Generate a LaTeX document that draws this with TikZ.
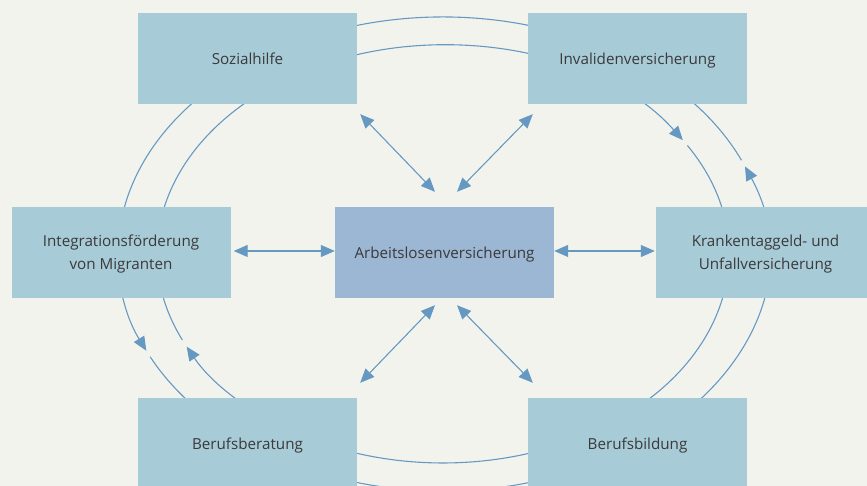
\documentclass[tikz,border=0pt]{standalone}
\usepackage{fontspec}
\setmainfont{Open Sans}
\usetikzlibrary{arrows.meta}
\definecolor{bg}{HTML}{F3F3EE}
\definecolor{boxblue}{HTML}{A8CBD8}
\definecolor{midblue}{HTML}{9CB7D4}
\definecolor{linkblue}{HTML}{6699C2}
\definecolor{txt}{HTML}{3A3A3A}
\begin{document}
\begin{tikzpicture}[x=1pt, y=1pt, >={Triangle[length=14pt,width=12pt]},
  inst/.style={fill=boxblue, minimum width=219pt, minimum height=91pt, inner sep=0pt,
    align=center, text=txt, text depth=0pt, font=\fontsize{15.2}{23}\selectfont},
  link/.style={draw=linkblue, line width=1.1pt}]
\fill[bg] (0,0) rectangle (867,486);
\useasboundingbox (0,0) rectangle (867,486);
\clip (0,0) rectangle (867,486);
\coordinate (c) at (443,232);
% outer ring
\draw[link,->] ([shift={(23.3:325 and 237)}]c) arc[start angle=23.3, end angle=204.1, x radius=325, y radius=237];
\draw[link,->] ([shift={(205.7:325 and 237)}]c) arc[start angle=205.7, end angle=381.7, x radius=325, y radius=237];
% inner ring
\draw[link,->] ([shift={(204.3:286 and 209)}]c) arc[start angle=204.3, end angle=33, x radius=286, y radius=209];
\draw[link,->] ([shift={(31.3:286 and 209)}]c) arc[start angle=31.3, end angle=-153.7, x radius=286, y radius=209];

\node[inst] (sozial) at (247.5,427.5) {Sozialhilfe};
\node[inst] (invalid) at (637.5,427.5) {Invalidenversicherung};
\node[inst] (integ) at (121,233.5) {Integrationsförderung\\von Migranten};
\node[inst, fill=midblue] (arbeit) at (444.5,233.5) {Arbeitslosenversicherung};
\node[inst] (kranken) at (765.5,233.5) {Krankentaggeld- und\\Unfallversicherung};
\node[inst] (beratung) at (247.5,42.5) {Berufsberatung};
\node[inst] (bildung) at (637.5,42.5) {Berufsbildung};

\draw[link,<->] ([shift={(3,-10)}]sozial.south east) -- ([shift={(-9.5,15)}]arbeit.north);
\draw[link,<->] ([shift={(5,-10)}]invalid.south west) -- ([shift={(12.5,15)}]arbeit.north);
\draw[link,<->] ([shift={(3,1.5)}]integ.east) -- ([yshift=1.5]arbeit.west);
\draw[link,<->] ([yshift=1.5]arbeit.east) -- ([shift={(-1,1.5)}]kranken.west);
\draw[link,<->] ([shift={(-9.5,-7)}]arbeit.south) -- ([shift={(3,15)}]beratung.north east);
\draw[link,<->] ([shift={(12.5,-7)}]arbeit.south) -- ([shift={(5,15)}]bildung.north west);
\end{tikzpicture}
\end{document}
